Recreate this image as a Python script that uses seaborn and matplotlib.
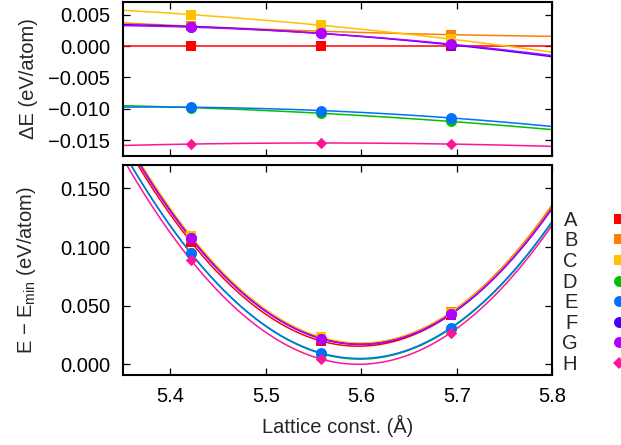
import numpy as np
import matplotlib
matplotlib.use("Agg")
import matplotlib.pyplot as plt
import seaborn as sns
from matplotlib.ticker import FuncFormatter, MultipleLocator
from matplotlib.lines import Line2D

# ---------------- data ----------------
lattice = [5.4215, 5.5577, 5.6934]
labels = ["A", "B", "C", "D", "E", "F", "G", "H"]

# top panel: energy difference relative to A (eV/atom)
dE_A = [0.0000, 0.0000, 0.0000]
dE_B = [0.00315, 0.00235, 0.0018]
dE_C = [0.0050, 0.0033, 0.0011]
dE_D = [-0.0098, -0.0107, -0.0120]
dE_E = [-0.00974, -0.01027, -0.01144]
dE_F = [0.0031, 0.0020, 0.0002]
dE_G = [0.0030, 0.0020, 0.0003]
dE_H = [-0.0156, -0.01543, -0.0156]

# bottom panel: E - E_min (eV/atom)
E_A = [0.1045, 0.0200, 0.0425]
E_B = [0.1076, 0.0224, 0.0443]
E_C = [0.1095, 0.0233, 0.0436]
E_D = [0.0947, 0.0093, 0.0305]
E_E = [0.0948, 0.0098, 0.0311]
E_F = [0.1076, 0.0220, 0.0427]
E_G = [0.1075, 0.0220, 0.0428]
E_H = [0.0889, 0.0046, 0.0269]

top_data = [dE_A, dE_B, dE_C, dE_D, dE_E, dE_F, dE_G, dE_H]
bot_data = [E_A, E_B, E_C, E_D, E_E, E_F, E_G, E_H]

colors = ["#FF0000", "#FF8000", "#FFC000", "#00C000",
          "#0070FF", "#4000FF", "#B000FF", "#FF1499"]
markers = ["s", "s", "s", "o", "o", "o", "o", "D"]
msizes = [58, 58, 58, 62, 62, 62, 62, 34]

x_range = (5.35, 5.8)
top_ylim = (-0.0175, 0.007)
bot_ylim = (-0.009, 0.170)

# ---------------- style ----------------
sns.set_theme(style="ticks")
plt.rcParams["font.family"] = ["Liberation Sans", "DejaVu Sans"]
plt.rcParams["mathtext.fontset"] = "custom"
plt.rcParams["mathtext.rm"] = "Liberation Sans"
plt.rcParams["mathtext.it"] = "Liberation Sans:italic"
FS = 14.5

W, H = 621, 445
fig = plt.figure(figsize=(W / 100, H / 100), dpi=100)
left, right = 122.7 / W, 552.3 / W
ax_top = fig.add_axes([left, 1 - 156 / H, right - left, (156 - 2) / H])
ax_bot = fig.add_axes([left, 1 - 375 / H, right - left, (375 - 165) / H])


def fmt(v, p):
    s = f"{v:.3f}"
    if s == "-0.000":
        s = "0.000"
    return s.replace("-", "\u2212")


xfit = np.linspace(x_range[0], x_range[1], 400)
for i, lab in enumerate(labels):
    for ax, data in ((ax_top, top_data[i]), (ax_bot, bot_data[i])):
        coef = np.polyfit(lattice, data, 2)
        sns.lineplot(x=xfit, y=np.polyval(coef, xfit), color=colors[i],
                     lw=1.1, ax=ax, zorder=2)
        sns.scatterplot(x=lattice, y=data, color=colors[i], marker=markers[i],
                        s=msizes[i], linewidth=0, ax=ax, zorder=3)

for ax in (ax_top, ax_bot):
    ax.set_xlim(*x_range)
    ax.xaxis.set_major_locator(MultipleLocator(0.1))
    ax.yaxis.set_major_formatter(FuncFormatter(fmt))
    ax.tick_params(direction="in", top=True, right=True, length=5,
                   width=0.9, labelsize=FS, pad=9, colors="black")
    for sp in ax.spines.values():
        sp.set_linewidth(1.5)
        sp.set_color("black")
    ax.set_facecolor("white")

ax_top.set_ylim(*top_ylim)
ax_top.yaxis.set_major_locator(MultipleLocator(0.005))
ax_top.tick_params(labelbottom=False)
ax_top.set_ylabel("\u0394E (eV/atom)", fontsize=FS)
ax_top.yaxis.set_label_coords(-0.198, 0.5)

ax_bot.set_ylim(*bot_ylim)
ax_bot.yaxis.set_major_locator(MultipleLocator(0.05))
ax_bot.set_ylabel("E \u2212 E$_{\\rm min}$ (eV/atom)", fontsize=FS)
ax_bot.yaxis.set_label_coords(-0.198, 0.5)
ax_bot.set_xlabel("Lattice const. (\u00c5)", fontsize=FS, labelpad=6)
ax_bot.xaxis.set_major_formatter(FuncFormatter(lambda v, p: f"{v:.1f}"))

handles = [Line2D([], [], ls="none", marker=markers[i], color=colors[i],
                  markersize=(np.sqrt(msizes[i])), markeredgewidth=0)
           for i in range(len(labels))]
fig.legend(handles, labels, loc="center right",
           bbox_to_anchor=(628.7 / W, 1 - 292.4 / H),
           markerfirst=False, frameon=False, alignment="right",
           handlelength=1.0, handletextpad=1.55, labelspacing=0.08,
           borderpad=0, borderaxespad=0, fontsize=FS)

fig.savefig("out.png", dpi=100, facecolor="white")
